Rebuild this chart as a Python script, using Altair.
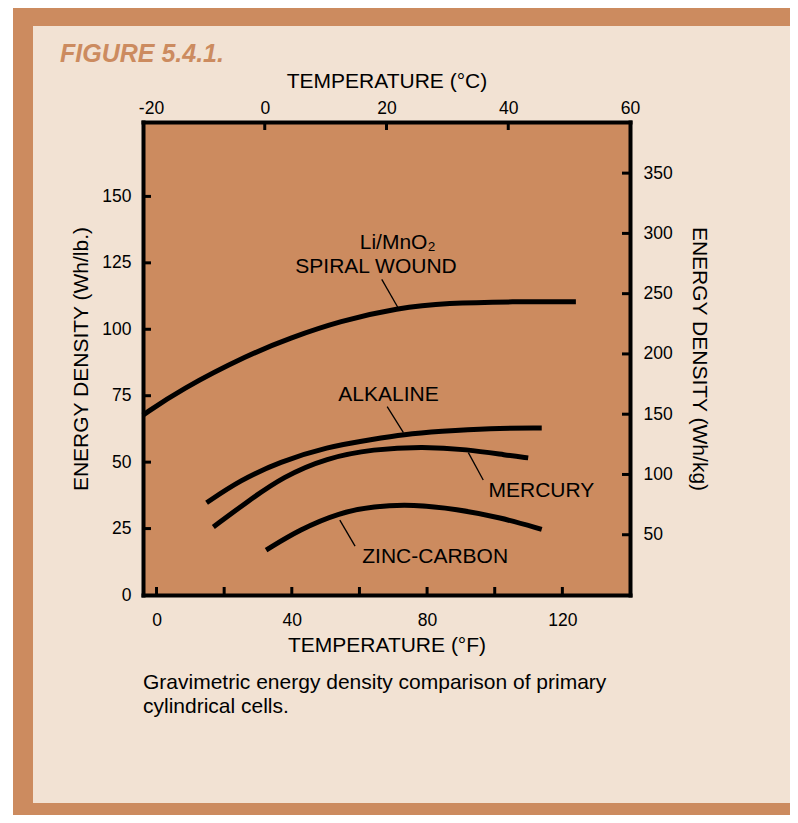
import altair as alt
import pandas as pd

# ---------------- data ----------------
li_F = [-4, 6.9, 27.6, 39.5, 54.2, 71.4, 85.9, 105.4, 124]
li_Wh = [67.7, 77.2, 90.7, 96.7, 103.1, 108.0, 109.9, 110.4, 110.4]

alk_F = [14.8, 24.7, 36.5, 50.3, 64.1, 73.0, 83.8, 98.6, 113.9]
alk_Wh = [34.7, 43.2, 50.1, 55.7, 58.6, 60.4, 61.6, 62.8, 62.8]

hg_F = [16.8, 26.7, 37.5, 50.3, 64.1, 78.9, 91.7, 103.6, 109.9]
hg_Wh = [25.6, 35.0, 44.6, 51.6, 54.9, 55.9, 54.8, 52.6, 51.6]

zn_F = [32.4, 42.4, 54.2, 64.1, 75.9, 88.8, 101.6, 113.9]
zn_Wh = [16.9, 24.7, 31.0, 33.4, 34.1, 32.3, 29.2, 24.7]

series_names = ["Li/MnO2 SPIRAL WOUND", "ALKALINE", "MERCURY", "ZINC-CARBON"]

# axis ticks / labels
F_labels = [0, 40, 80, 120]
F_ticks = [0, 20, 40, 60, 80, 100, 120]
C_labels = [-20, 0, 20, 40, 60]
C_ticks = [0, 20, 40]
Wh_labels = [0, 25, 50, 75, 100, 125, 150]
Wh_ticks = [25, 50, 75, 100, 125, 150]
kg_labels = [50, 100, 150, 200, 250, 300, 350]
kg_ticks = [50, 100, 150, 200, 250, 300, 350]

# centred curve labels: text, F, Wh (baseline)
lab_text = ["Li/MnO\u2082", "SPIRAL WOUND", "ALKALINE", "MERCURY", "ZINC-CARBON"]
lab_F = [71.3, 64.9, 68.6, 113.8, 82.4]
lab_Wh = [130.1, 121.1, 73.0, 37.0, 12.2]

# leader lines: id, F, Wh
lead_id = ["li", "li", "alk", "alk", "hg", "hg", "zn", "zn"]
lead_F = [66.6, 71.5, 68.2, 73.0, 92.2, 96.6, 54.2, 58.7]
lead_Wh = [118.8, 107.9, 70.9, 61.1, 53.6, 43.3, 28.2, 18.4]

# ---------------- tables ----------------
rows = []
for name, fs, ws in zip(series_names, [li_F, alk_F, hg_F, zn_F], [li_Wh, alk_Wh, hg_Wh, zn_Wh]):
    for f, w in zip(fs, ws):
        rows.append({"series": name, "F": f, "Wh": w})
curves_df = pd.DataFrame(rows)
labels_df = pd.DataFrame({"label": lab_text, "F": lab_F, "Wh": lab_Wh})
leaders_df = pd.DataFrame({"id": lead_id, "F": lead_F, "Wh": lead_Wh})
one = pd.DataFrame({"k": [0]})

BROWN = "#CC8B5F"
LIGHT = "#F2E2D3"
FONT = "Liberation Sans"
W, H = 487, 473
F_DOM = [-4, 140]
C_DOM = [-20, 60]
WH_DOM = [0, 178]
KG_DOM = [0, 178 * 2.2046]

common_axis = dict(domainColor="black", domainWidth=4, domainCap="square", ticks=False, grid=False,
                   labelColor="black", titleColor="black", labelFont=FONT, titleFont=FONT,
                   labelFontSize=17.5, titleFontSize=21, titleFontWeight="normal", zindex=1,
                   labelFlush=False, labelExpr="'' + datum.value")


def xF():
    return alt.X("F:Q", scale=alt.Scale(domain=F_DOM, nice=False, zero=False),
                 axis=alt.Axis(orient="bottom", values=F_labels, title="TEMPERATURE (°F)",
                               labelPadding=16, titlePadding=6, **common_axis))


def yWh():
    return alt.Y("Wh:Q", scale=alt.Scale(domain=WH_DOM, nice=False, zero=False),
                 axis=alt.Axis(orient="left", values=Wh_labels, title="ENERGY DENSITY (Wh/lb.)",
                               labelPadding=12, titlePadding=10, **common_axis))


def box(x1, x2, y1, y2, color):
    return alt.Chart(one).mark_rect(color=color).encode(
        x=alt.value(x1), x2=alt.value(x2), y=alt.value(y1), y2=alt.value(y2))


def note(txt, x, y, size, **kw):
    return alt.Chart(one).mark_text(text=txt, font=FONT, fontSize=size, color="black",
                                    align="left", baseline="alphabetic", **kw).encode(
        x=alt.value(x), y=alt.value(y))


bg_outer = box(-130, 647, -114, 693, BROWN)
bg_inner = box(-110, 647, -96, 681, LIGHT)
bg_plot = box(0, W, 0, H, BROWN)

curves = alt.Chart(curves_df).mark_line(color="black", strokeWidth=5, interpolate="basis",
                                        strokeCap="butt").encode(x=xF(), y=yWh(), detail="series:N")

leaders = alt.Chart(leaders_df).mark_line(color="black", strokeWidth=1.3).encode(
    x=xF(), y=yWh(), detail="id:N")

labels = alt.Chart(labels_df).mark_text(font=FONT, fontSize=21, color="black", align="center",
                                        baseline="alphabetic").encode(x=xF(), y=yWh(), text="label:N")

ticks_bottom = alt.Chart(pd.DataFrame({"F": F_ticks})).mark_rule(color="black", strokeWidth=3).encode(
    x=xF(), y=alt.value(H), y2=alt.value(H - 8))
ticks_left = alt.Chart(pd.DataFrame({"Wh": Wh_ticks})).mark_rule(color="black", strokeWidth=3).encode(
    y=yWh(), x=alt.value(0), x2=alt.value(8))

title_txt = alt.Chart(one).mark_text(text="FIGURE 5.4.1.", font=FONT,
                                     fontSize=25, fontWeight="bold", fontStyle="italic", color=BROWN,
                                     align="left", baseline="alphabetic").encode(x=alt.value(-83), y=alt.value(-60))
cap1 = note("Gravimetric energy density comparison of primary", 0, 567, 21)
cap2 = note("cylindrical cells.", 0, 591, 21)

layer_a = alt.layer(bg_outer, bg_inner, bg_plot, title_txt, cap1, cap2,
                    curves, leaders, labels, ticks_bottom, ticks_left)

ticks_top = alt.Chart(pd.DataFrame({"C": C_ticks})).mark_rule(color="black", strokeWidth=3).encode(
    x=alt.X("C:Q", scale=alt.Scale(domain=C_DOM, nice=False, zero=False),
            axis=alt.Axis(orient="top", values=C_labels, title="TEMPERATURE (°C)", labelPadding=5,
                          titlePadding=8,
                          labelOffset={"condition": {"test": "datum.value === -20", "value": 8}, "value": 0},
                          **common_axis)),
    y=alt.value(0), y2=alt.value(8))
ticks_right = alt.Chart(pd.DataFrame({"kg": kg_ticks})).mark_rule(color="black", strokeWidth=3).encode(
    y=alt.Y("kg:Q", scale=alt.Scale(domain=KG_DOM, nice=False, zero=False),
            axis=alt.Axis(orient="right", values=kg_labels, title="ENERGY DENSITY (Wh/kg)", labelPadding=13,
                          titlePadding=16, **common_axis)),
    x=alt.value(W - 8), x2=alt.value(W))

layer_b = alt.layer(ticks_top, ticks_right)

chart = alt.layer(layer_a, layer_b).resolve_scale(x="independent", y="independent").properties(
    width=W, height=H, autosize="none",
    padding={"left": 135, "top": 114, "right": 160, "bottom": 220},
    background="white",
).configure_view(strokeWidth=0)

chart.save("out.html", embed_options={"renderer": "svg", "actions": False})
